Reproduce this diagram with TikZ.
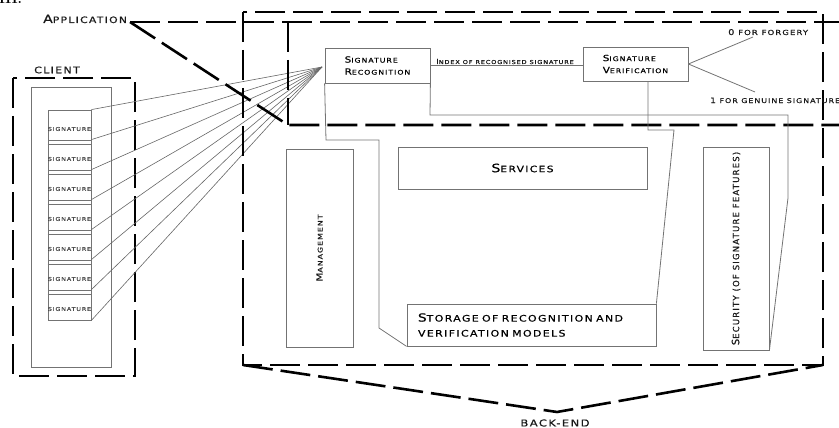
\documentclass[tikz,border=0pt]{standalone}
\usepackage{fontspec}
\newfontfamily\cp{DejaVu Sans}[LetterSpace=15, FakeStretch=1.22, FakeBold=0.6]
\newfontfamily\cq{DejaVu Sans}[LetterSpace=14, FakeBold=0.6]
\newcommand\SCx[4]{{\cp\fontsize{#1}{11}\selectfont #3\fontsize{#2}{11}\selectfont #4}}
\newcommand\SCy[4]{{\cq\fontsize{#1}{11}\selectfont #3\fontsize{#2}{11}\selectfont #4}}
\begin{document}
\begin{tikzpicture}[x=1pt,y=-1pt,
  bigdash/.style={line width=2.6pt, dash pattern=on 30pt off 8pt},
  gbox/.style={draw=black!55, line width=0.8pt, inner sep=0pt},
  gline/.style={draw=black!55, line width=0.8pt},
  fan/.style={draw=black!60, line width=0.6pt},
  lbl/.style={inner sep=0pt, text=black!90}]
\useasboundingbox (0,0) rectangle (839,428);
% fragment of heading
\node[anchor=base west, inner sep=0pt, font=\fontsize{14}{14}\selectfont\bfseries] (hd) at (-1,4) {III.};

% ---------- client ----------
\draw[bigdash, line width=2.4pt] (13,78) rectangle (135,376);
\node[lbl, font=\cp\fontsize{9}{9}\selectfont] (client) at (57,70) {CLIENT};
\draw[gline] (31,87) rectangle (111,367);
\foreach \i in {0,...,6}{
  \pgfmathsetmacro\tp{110+30*\i}
  \node[gbox, minimum width=43pt, minimum height=30pt] (s\i) at (69.5,\tp+15) {};
  \node[lbl, text=black!70, font=\cp\fontsize{5.3}{5}\selectfont] at (69.5,\tp+19) {SIGNATURE};
  \ifnum\i>0 \draw[gline] (s\i.north west) ++(0,5) -- ++(43,0); \fi
}
\coordinate (conv) at (322,67);
\foreach \i in {0,...,6}{ \draw[fan] (s\i.north east) -- (conv); }
\draw[fan] (s6.south east) -- (conv);

% ---------- back-end ----------
\draw[bigdash] (243,12) rectangle (823,365);
\coordinate (bapex) at (557,412);
\draw[bigdash] (243,365) -- (bapex) -- (823,365);
\node[lbl, font=\cp\fontsize{9.5}{9}\selectfont] (backend) at (555,423) {BACK-END};

% ---------- application ----------
\node[lbl, anchor=base west] (app) at (43,23) {\SCx{11.5}{8.8}{A}{PPLICATION}};
\coordinate (a0) at (130,22);
\draw[bigdash] (a0) -- (850,22);
\draw[bigdash] (a0) -- (288,125) -- (850,125);
\draw[bigdash] (288,22) -- (288,125);

% ---------- inner boxes ----------
\node[gbox, minimum width=105pt, minimum height=35pt, align=left] (rec) at (377.5,65.5)
  {\SCx{8.5}{6.4}{S}{IGNATURE}\\\SCx{8.5}{6.4}{R}{ECOGNITION}};
\node[gbox, minimum width=105pt, minimum height=34pt, align=left] (ver) at (635.5,64)
  {\SCx{8.5}{6.4}{S}{IGNATURE}\\\SCx{8.5}{6.4}{V}{ERIFICATION}};
\draw[gline] (rec.east) -- (rec.east -| ver.west);
\node[lbl, anchor=base] (idx) at (505,64) {\SCx{7}{5.4}{I}{NDEX OF RECOGNISED SIGNATURE}};

\node[lbl, anchor=base west] (zero) at (728,35) {\SCx{8}{7}{0}{ FOR FORGERY}};
\node[lbl, anchor=base west] (one) at (710,103) {\SCx{7.5}{6.5}{1}{ FOR GENUINE SIGNATURE}};
\draw[gline] (ver.east) -- (753,37);
\draw[gline] (ver.east) -- (755,92);

\node[gbox, minimum width=249pt, minimum height=42pt] (serv) at (522.5,168) {\SCx{11.5}{8.8}{S}{ERVICES}};
\node[gbox, minimum width=67pt, minimum height=198pt] (mgmt) at (319.5,248) {};
\node[lbl, rotate=90] at (mgmt.center) {\SCx{8.5}{6.5}{M}{ANAGEMENT}};
\node[gbox, minimum width=66pt, minimum height=203pt] (sec) at (736,248.5) {};
\node[lbl, rotate=90] at (sec.center) {\SCy{10}{8.5}{S}{ECURITY (OF SIGNATURE FEATURES)}};
\node[gbox, minimum width=249pt, minimum height=42pt, text width=227pt, align=left] (store) at (531.5,325)
  {\SCx{11.2}{9}{S}{TORAGE OF RECOGNITION AND}\\[3pt]\SCx{9}{9}{}{VERIFICATION MODELS}};

% connectors between boxes
\draw[gline] (rec.south west) -- (326,140) -- (379,140) -- (379,328) -- (store.south west);
\draw[gline] (rec.south east) -- (430,115) -- (788,115) -- (788,198) -- (sec.south east);
\draw[gline] (ver.south -| 648,0) -- (648,130) -- (674,130) -- (store.north east);
\end{tikzpicture}
\end{document}
